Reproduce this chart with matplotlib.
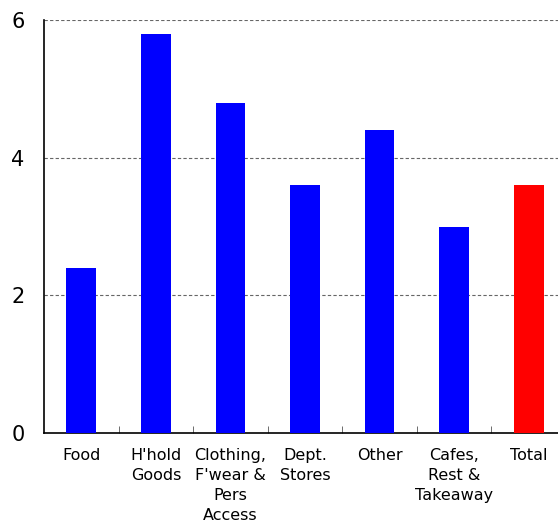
import matplotlib
matplotlib.use("Agg")
import matplotlib.pyplot as plt
import numpy as np

categories = ["Food", "H'hold\nGoods", "Clothing,\nF'wear &\nPers\nAccess", "Dept.\nStores",
              "Other", "Cafes,\nRest &\nTakeaway", "Total"]
values = [2.4, 5.8, 4.8, 3.6, 4.4, 3.0, 3.6]
colors = ["#0000ff"] * 6 + ["#ff0000"]

fig = plt.figure(figsize=(5.58, 5.22), dpi=100)
# axes run slightly past the right edge of the figure
ax = fig.add_axes([44 / 558, 89 / 522, 522 / 558, 413 / 522])

x = np.arange(len(categories))
ax.bar(x, values, width=0.4, color=colors, zorder=3)

ax.set_xlim(-0.5, len(categories) - 0.5)
ax.set_ylim(0, 6)
ax.set_yticks([0, 2, 4, 6])
ax.tick_params(axis="y", length=0, pad=14, labelsize=15)
ax.set_xticks(x)
ax.set_xticklabels(categories, fontsize=11.5, linespacing=1.42)
ax.tick_params(axis="x", length=0, pad=11)
ax.set_xticks(x[:-1] + 0.5, minor=True)
ax.tick_params(axis="x", which="minor", direction="in", length=5, color="#555555")

for yv in [2, 4, 6]:
    ax.axhline(yv, color="#666666", linestyle=(0, (3, 2)), linewidth=0.8, zorder=1)

for side in ["top", "right"]:
    ax.spines[side].set_visible(False)
ax.spines["left"].set_linewidth(1.2)
ax.spines["bottom"].set_linewidth(1.2)

fig.savefig("out.png", dpi=100)
